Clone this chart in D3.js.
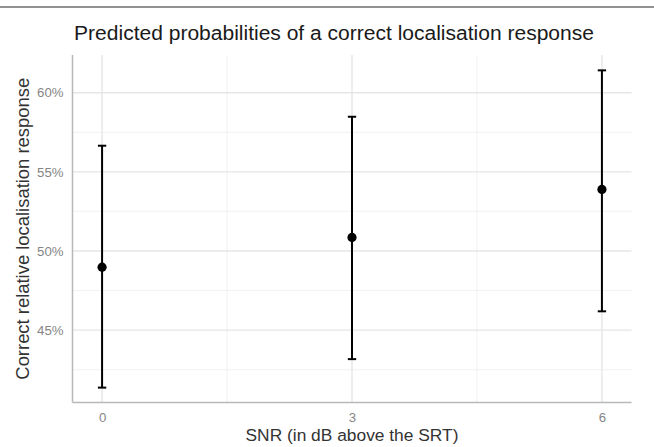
<!DOCTYPE html>
<html>
<head>
<meta charset="utf-8">
<script src="https://cdn.jsdelivr.net/npm/d3@7"></script>
<style>
  html, body { margin: 0; padding: 0; background: #fff; }
  svg { display: block; font-family: "Liberation Sans", Arial, Helvetica, sans-serif; }
</style>
</head>
<body>
<svg id="chart" width="654" height="447"></svg>
<script>
// ---- data ----
const snr = [0, 3, 6];
const predicted = [48.98, 50.86, 53.89];
const lower = [41.37, 43.17, 46.19];
const upper = [56.65, 58.48, 61.41];
const xTicks = [0, 3, 6];
const xMinorTicks = [1.5, 4.5];
const yTicks = [45, 50, 55, 60];
const yMinorTicks = [42.5, 47.5, 52.5, 57.5];
const title = "Predicted probabilities of a correct localisation response";
const xTitle = "SNR (in dB above the SRT)";
const yTitle = "Correct relative localisation response";

// ---- layout ----
const W = 654, H = 447;
const panel = { left: 72.5, right: 631.5, top: 55, bottom: 402.5 };

const svg = d3.select("#chart");

// font size that makes a text element reach a target width
function fitSize(sel, target) {
  const fs = parseFloat(sel.style("font-size"));
  const w = sel.node().getComputedTextLength();
  return w > 0 ? fs * target / w : fs;
}
function fitWidth(sel, target) {
  sel.style("font-size", fitSize(sel, target).toFixed(2) + "px");
  return sel;
}

// top border line
svg.append("line")
  .attr("x1", 0).attr("x2", W).attr("y1", 7).attr("y2", 7)
  .attr("stroke", "#6e6e6e").attr("stroke-width", 1.6);

const x = d3.scaleLinear().domain([-0.355, 6.355]).range([panel.left, panel.right]);
const y = d3.scaleLinear().domain([40.43, 62.38]).range([panel.bottom, panel.top]);

const g = svg.append("g");

// minor grid
g.selectAll("line.ymin").data(yMinorTicks).join("line")
  .attr("x1", panel.left).attr("x2", panel.right)
  .attr("y1", d => y(d)).attr("y2", d => y(d))
  .attr("stroke", "#eeeeee").attr("stroke-width", 0.8);
g.selectAll("line.xmin").data(xMinorTicks).join("line")
  .attr("y1", panel.top).attr("y2", panel.bottom)
  .attr("x1", d => x(d)).attr("x2", d => x(d))
  .attr("stroke", "#eeeeee").attr("stroke-width", 0.8);
// major grid
g.selectAll("line.ymaj").data(yTicks).join("line")
  .attr("x1", panel.left).attr("x2", panel.right)
  .attr("y1", d => y(d)).attr("y2", d => y(d))
  .attr("stroke", "#e6e6e6").attr("stroke-width", 1.4);
g.selectAll("line.xmaj").data(xTicks).join("line")
  .attr("y1", panel.top).attr("y2", panel.bottom)
  .attr("x1", d => x(d)).attr("x2", d => x(d))
  .attr("stroke", "#e6e6e6").attr("stroke-width", 1.4);

// axes
const yAxis = d3.axisLeft(y).tickValues(yTicks).tickSize(0).tickPadding(9)
  .tickFormat(d => d + "%");
const yg = svg.append("g").attr("transform", `translate(${panel.left},0)`).call(yAxis);
yg.select(".domain").remove();
yg.attr("font-family", null).attr("font-size", null);
const yLabels = yg.selectAll("text").attr("fill", "#858585").style("font-size", "13px");
const tickFs = fitSize(d3.select(yLabels.nodes()[yLabels.size() - 1]), 26.5);
yLabels.style("font-size", tickFs.toFixed(2) + "px");

const xAxis = d3.axisBottom(x).tickValues(xTicks).tickSize(0).tickPadding(10)
  .tickFormat(d3.format("d"));
const xg = svg.append("g").attr("transform", `translate(0,${panel.bottom})`).call(xAxis);
xg.select(".domain").remove();
xg.attr("font-family", null).attr("font-size", null);
xg.selectAll("text").attr("fill", "#858585").style("font-size", tickFs.toFixed(2) + "px");

// axis lines
svg.append("line")
  .attr("x1", panel.left).attr("x2", panel.left)
  .attr("y1", panel.top).attr("y2", panel.bottom)
  .attr("stroke", "#b8b8b8").attr("stroke-width", 1.5);
svg.append("line")
  .attr("x1", panel.left).attr("x2", panel.right)
  .attr("y1", panel.bottom).attr("y2", panel.bottom)
  .attr("stroke", "#b8b8b8").attr("stroke-width", 1.5);

// error bars
const capHalf = 0.05;
const eb = svg.append("g");
snr.forEach((s, i) => {
  eb.append("line")
    .attr("x1", x(s)).attr("x2", x(s))
    .attr("y1", y(lower[i])).attr("y2", y(upper[i]))
    .attr("stroke", "#000").attr("stroke-width", 2);
  [lower[i], upper[i]].forEach(v => {
    eb.append("line")
      .attr("x1", x(s - capHalf)).attr("x2", x(s + capHalf))
      .attr("y1", y(v)).attr("y2", y(v))
      .attr("stroke", "#000").attr("stroke-width", 2);
  });
});

// points
svg.append("g").selectAll("circle").data(snr).join("circle")
  .attr("cx", d => x(d))
  .attr("cy", (d, i) => y(predicted[i]))
  .attr("r", 4.6)
  .attr("fill", "#000");

// titles
const t = svg.append("text")
  .attr("x", 334).attr("y", 40)
  .attr("text-anchor", "middle")
  .attr("fill", "#1a1a1a")
  .style("font-size", "20px")
  .text(title);
fitWidth(t, 520);

const xt = svg.append("text")
  .attr("x", 352).attr("y", 441)
  .attr("text-anchor", "middle")
  .attr("fill", "#333")
  .style("font-size", "17px")
  .text(xTitle);
fitWidth(xt, 213);

const yt = svg.append("text")
  .attr("transform", `translate(29,${(panel.top + panel.bottom) / 2}) rotate(-90)`)
  .attr("text-anchor", "middle")
  .attr("fill", "#333")
  .style("font-size", "17px")
  .text(yTitle);
fitWidth(yt, 302);
</script>
</body>
</html>
